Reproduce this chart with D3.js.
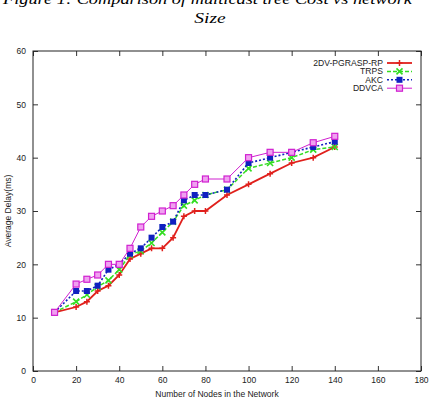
<!DOCTYPE html>
<html><head><meta charset="utf-8">
<script src="https://cdn.jsdelivr.net/npm/d3@7"></script>
<style>body{margin:0;background:#fff;}svg{display:block;}</style>
</head><body>
<svg id="c" width="430" height="402"></svg>
<script>
const xs = [10,20,25,30,35,40,45,50,55,60,65,70,75,80,90,100,110,120,130,140];
const red = [11,12,13,15,16,18,21,22,23,23,25,29,30,30,33,35,37,39,40,42];
const green = [11,13,14.3,15.8,17,19,21.8,22.5,24,26,28,31,32,33,34,38,39,40,41.5,42];
const blue = [11,15,15,16,19,20,22,23,25,27,28,32,33,33,34,39,40,41,42,43];
const magenta = [11,16.3,17.2,18,20,20,23,27,29,30,31,33,35,36,36,40,41,41,42.8,44];
const seriesNames = ["2DV-PGRASP-RP","TRPS","AKC","DDVCA"];
const xTicks = [0,20,40,60,80,100,120,140,160,180];
const yTicks = [0,10,20,30,40,50,60];

const svg = d3.select("#c");
const L=33,R=421,T=51,B=371;
const x = d3.scaleLinear().domain([0,180]).range([L,R]);
const y = d3.scaleLinear().domain([0,60]).range([B,T]);

// title (first line partly cut off at the top, as in the reference)
svg.append("text").attr("x",3).attr("y",4)
  .attr("font-family","Liberation Serif").attr("font-style","italic").attr("font-size",15)
  .attr("textLength",409).attr("lengthAdjust","spacingAndGlyphs")
  .text("Figure 1: Comparison of multicast tree Cost vs network");
svg.append("text").attr("transform","translate(210,23) scale(1.3,1)").attr("text-anchor","middle")
  .attr("font-family","Liberation Serif").attr("font-style","italic").attr("font-size",15)
  .text("Size");

const font="Liberation Sans";
const gx = svg.append("g").attr("transform",`translate(0,${B})`)
  .call(d3.axisBottom(x).tickValues(xTicks).tickSize(-5).tickPadding(6));
const gx2 = svg.append("g").attr("transform",`translate(0,${T})`)
  .call(d3.axisTop(x).tickValues(xTicks).tickSize(-5).tickFormat(""));
const gy = svg.append("g").attr("transform",`translate(${L},0)`)
  .call(d3.axisLeft(y).tickValues(yTicks).tickSize(-5).tickPadding(7));
const gy2 = svg.append("g").attr("transform",`translate(${R},0)`)
  .call(d3.axisRight(y).tickValues(yTicks).tickSize(-5).tickFormat(""));
[gx,gx2,gy,gy2].forEach(g=>{
  g.select(".domain").remove();
  g.selectAll("line").attr("stroke","#333");
  g.selectAll("text").attr("font-family",font).attr("font-size",8.5).attr("fill","#222");
});
svg.append("rect").attr("x",L).attr("y",T).attr("width",R-L).attr("height",B-T)
  .attr("fill","none").attr("stroke","#222").attr("stroke-width",1);

svg.append("text").attr("x",(L+R)/2 - 10).attr("y",397).attr("text-anchor","middle")
  .attr("font-family",font).attr("font-size",8.5).attr("fill","#222").text("Number of Nodes in the Network");
svg.append("text").attr("transform",`translate(11,${(T+B)/2}) rotate(-90)`).attr("text-anchor","middle")
  .attr("font-family",font).attr("font-size",8.5).attr("fill","#222").text("Average Delay(ms)");

const series = [
  {name:seriesNames[0], vals:red, color:"#e0201c", dash:null, w:1.8, marker:"plus"},
  {name:seriesNames[1], vals:green, color:"#33dd22", dash:"4,2", w:1.5, marker:"xsq"},
  {name:seriesNames[2], vals:blue, color:"#1020c0", dash:"2,2", w:1.6, marker:"fsq"},
  {name:seriesNames[3], vals:magenta, color:"#d020d0", dash:null, w:1, marker:"osq"}
];
const line = d3.line().x(d=>x(d[0])).y(d=>y(d[1]));
function marker(g,cx,cy,s){
  const m=s.marker;
  if(m==="plus"){
    g.append("path").attr("d",`M${cx-3},${cy}H${cx+3}M${cx},${cy-3}V${cy+3}`).attr("stroke",s.color).attr("stroke-width",1.5);
  } else if(m==="xsq"){
    g.append("path").attr("d",`M${cx-3},${cy-3}L${cx+3},${cy+3}M${cx-3},${cy+3}L${cx+3},${cy-3}`).attr("stroke",s.color).attr("stroke-width",1.6);
  } else if(m==="fsq"){
    g.append("rect").attr("x",cx-3).attr("y",cy-3).attr("width",6).attr("height",6).attr("fill",s.color);
  } else {
    g.append("rect").attr("x",cx-3).attr("y",cy-3).attr("width",6).attr("height",6).attr("fill","#f0a0f0").attr("stroke",s.color).attr("stroke-width",1.2);
  }
}
series.forEach(s=>{
  const pts = xs.map((v,i)=>[v,s.vals[i]]);
  const g = svg.append("g");
  g.append("path").attr("d",line(pts)).attr("fill","none").attr("stroke",s.color)
    .attr("stroke-width",s.w).attr("stroke-dasharray",s.dash);
  pts.forEach(p=>marker(g,x(p[0]),y(p[1]),s));
});
// legend
series.forEach((s,i)=>{
  const ly = 63 + i*8.4;
  svg.append("text").attr("x",383).attr("y",ly+3).attr("text-anchor","end")
    .attr("font-family",font).attr("font-size",8.6).attr("fill","#222").text(s.name);
  const g = svg.append("g");
  g.append("line").attr("x1",387).attr("x2",412).attr("y1",ly).attr("y2",ly)
    .attr("stroke",s.color).attr("stroke-width",s.w).attr("stroke-dasharray",s.dash);
  marker(g,399.5,ly,s);
});
</script>
</body></html>
